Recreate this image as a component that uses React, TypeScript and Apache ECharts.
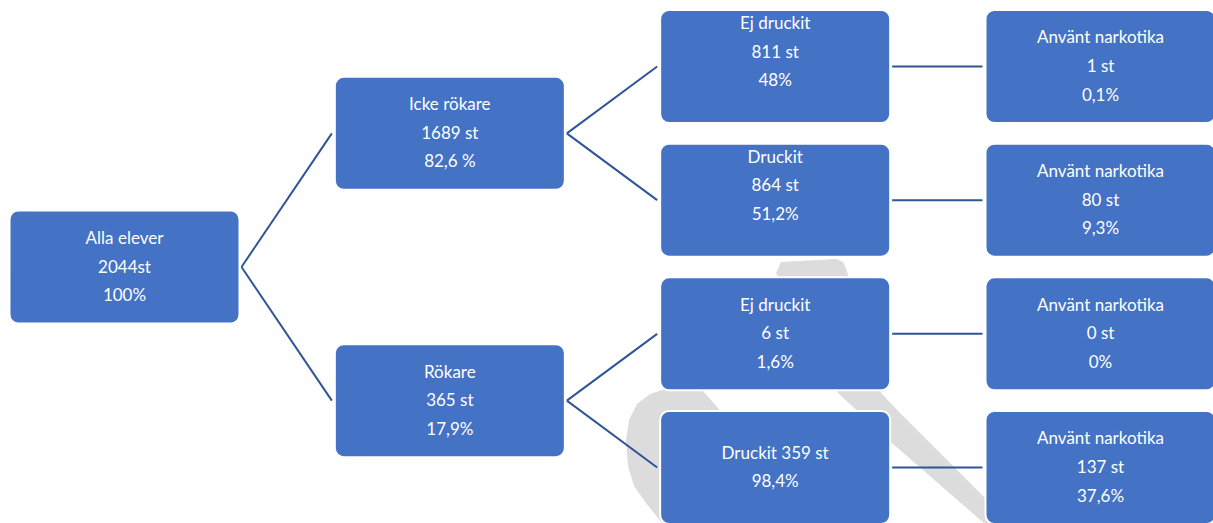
import React, { useEffect, useRef } from "react";
import * as echarts from "echarts";

// Tree nodes: text lines of each box and index of its parent (-1 = root)
const nodeLines: string[][] = [
  ["Alla elever", "2044st", "100%"],
  ["Icke rökare", "1689 st", "82,6 %"],
  ["Rökare", "365 st", "17,9%"],
  ["Ej druckit", "811 st", "48%", ""],
  ["Druckit", "864 st", "51,2%", ""],
  ["Ej druckit", "6 st", "1,6%"],
  ["Druckit 359 st", "98,4%"],
  ["Använt narkotika", "1 st", "0,1%"],
  ["Använt narkotika", "80 st", "9,3%"],
  ["Använt narkotika", "0 st", "0%"],
  ["Använt narkotika", "137 st", "37,6%"],
];
const parents: number[] = [-1, 0, 0, 1, 1, 2, 2, 3, 4, 5, 6];

const BOX_FILL = "#4472C4";
const LINE_COLOR = "#2F5597";
const WATERMARK = "#DCDCDC";
const BOX_W = 230;
const BOX_H = 113;
const FONT = "Lato, 'Open Sans', sans-serif";

function layoutTree() {
  const n = parents.length;
  const children: number[][] = Array.from({ length: n }, () => []);
  parents.forEach((p, i) => {
    if (p >= 0) children[p].push(i);
  });
  const depth: number[] = new Array(n).fill(0);
  const slot: number[] = new Array(n).fill(0);
  let leafCounter = 0;
  const visit = (i: number, d: number) => {
    depth[i] = d;
    if (children[i].length === 0) {
      slot[i] = leafCounter++;
    } else {
      children[i].forEach((c) => visit(c, d + 1));
      const cs = children[i].map((c) => slot[c]);
      slot[i] = (Math.min(...cs) + Math.max(...cs)) / 2;
    }
  };
  visit(0, 0);
  return { depth, slot };
}

export default function App() {
  const ref = useRef<HTMLDivElement>(null);
  useEffect(() => {
    if (!ref.current) return;
    const chart = echarts.init(ref.current, undefined, { renderer: "svg" });
    const { depth, slot } = layoutTree();
    const maxDepth = Math.max(...depth);
    const maxSlot = Math.max(...slot);

    const boxData = nodeLines.map((_, i) => [depth[i], slot[i], i]);
    const linkData = parents
      .map((p, i) => (p >= 0 ? [depth[p], slot[p], depth[i], slot[i]] : null))
      .filter((d) => d !== null) as number[][];

    chart.setOption({
      animation: false,
      backgroundColor: "#ffffff",
      grid: { left: 124.5, right: 112.5, top: 66.5, bottom: 55.5 },
      xAxis: { type: "value", min: 0, max: maxDepth, show: false },
      yAxis: { type: "value", min: 0, max: maxSlot, inverse: true, show: false },
      graphic: [
        {
          type: "polygon",
          z: 0,
          silent: true,
          shape: {
            points: [
              [776, 273],
              [781, 262],
              [836, 259],
              [843, 262],
              [846, 268],
              [881, 393],
              [900, 413],
              [995, 508],
              [995, 530],
              [985, 524],
              [892, 443],
              [838, 393],
            ],
          },
          style: { fill: WATERMARK },
        },
        {
          type: "polygon",
          z: 0,
          silent: true,
          shape: {
            points: [
              [701, 389],
              [719, 409],
              [700, 530],
              [662, 523],
              [646, 503],
              [634, 486],
              [628, 466],
              [626, 440],
              [629, 420],
              [637, 404],
              [650, 394],
              [668, 388],
            ],
          },
          style: { fill: WATERMARK },
        },
      ],
      series: [
        {
          type: "custom",
          name: "links",
          z: 2,
          clip: false,
          silent: true,
          encode: { x: [0, 2], y: [1, 3] },
          data: linkData,
          renderItem: (params: any, api: any) => {
            const p = api.coord([api.value(0), api.value(1)]);
            const q = api.coord([api.value(2), api.value(3)]);
            return {
              type: "line",
              shape: {
                x1: p[0] + BOX_W / 2 + 2,
                y1: p[1],
                x2: q[0] - BOX_W / 2 - 3,
                y2: q[1],
              },
              style: { stroke: LINE_COLOR, lineWidth: 2 },
            };
          },
        },
        {
          type: "custom",
          name: "boxes",
          z: 3,
          clip: false,
          silent: true,
          encode: { x: 0, y: 1 },
          data: boxData,
          renderItem: (params: any, api: any) => {
            const c = api.coord([api.value(0), api.value(1)]);
            const idx = api.value(2);
            return {
              type: "group",
              children: [
                {
                  type: "rect",
                  shape: {
                    x: c[0] - BOX_W / 2,
                    y: c[1] - BOX_H / 2,
                    width: BOX_W,
                    height: BOX_H,
                    r: 9,
                  },
                  style: { fill: BOX_FILL, stroke: "#ffffff", lineWidth: 2 },
                },
                {
                  type: "text",
                  x: c[0],
                  y: c[1] - 1,
                  style: {
                    text: nodeLines[idx].join("\n"),
                    fill: "#ffffff",
                    font: `17px ${FONT}`,
                    align: "center",
                    verticalAlign: "middle",
                    lineHeight: 28.6,
                  },
                },
              ],
            };
          },
        },
      ],
    });
    return () => chart.dispose();
  }, []);
  return (
    <div
      ref={ref}
      style={{ position: "absolute", left: 0, top: 0, width: 1213, height: 523 }}
    />
  );
}
